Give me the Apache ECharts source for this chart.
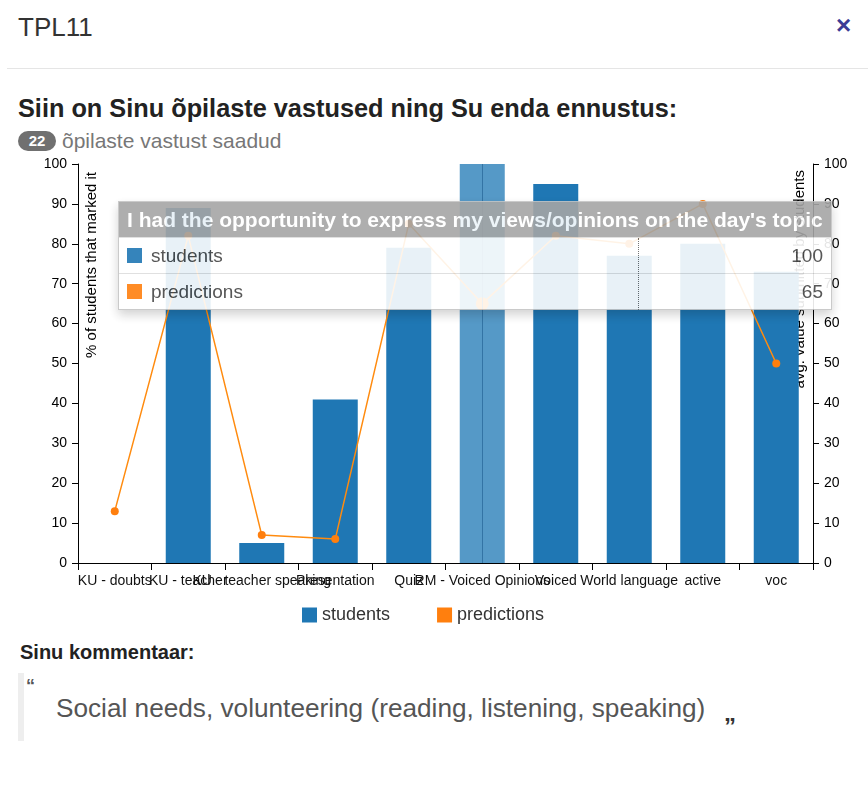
<!DOCTYPE html>
<html>
<head>
<meta charset="utf-8">
<title>TPL11</title>
<script src="https://cdn.jsdelivr.net/npm/echarts@6/dist/echarts.min.js"></script>
<style>
  html, body { margin: 0; padding: 0; background: #fff; }
  body { width: 868px; height: 787px; position: relative; overflow: hidden;
         font-family: "Liberation Sans", Arial, Helvetica, sans-serif; }
  .abs { position: absolute; white-space: nowrap; }
  #title { left: 18px; top: 12px; line-height: 30px; font-size: 26px; color: #333; }
  #close { left: 836px; top: 11px; line-height: 28px; font-size: 26px; font-weight: bold; color: #3c3c96; }
  #divider { left: 7px; right: 0; top: 68px; height: 1px; background: #e5e5e5; }
  #heading { left: 18px; top: 93px; line-height: 30px; font-size: 25.3px; font-weight: bold; color: #222; }
  #badge { left: 18px; top: 131px; width: 38px; height: 20px; border-radius: 10px; background: #707070;
           color: #fff; font-size: 15px; font-weight: bold; line-height: 20px; text-align: center; }
  #count { left: 62px; top: 128px; line-height: 26px; font-size: 21px; color: #777; }
  #chart { position: absolute; left: 0; top: 150px; width: 868px; height: 490px; }
  #commentLabel { left: 20px; top: 640px; line-height: 24px; font-size: 20px; font-weight: bold; color: #222; }
  #quoteBar { left: 18px; top: 673px; width: 6px; height: 68px; background: #eee; }
  #openQuote { left: 26px; top: 676px; line-height: 20px; font-size: 18px; font-weight: bold; color: #555; }
  #comment { left: 56px; top: 692px; line-height: 32px; font-size: 26.2px; color: #555; }
  #closeQuote { left: 724px; top: 697px; line-height: 32px; font-size: 24px; font-weight: bold; color: #333; }
</style>
</head>
<body>
<div id="title" class="abs">TPL11</div>
<div id="close" class="abs">×</div>
<div id="divider" class="abs"></div>
<div id="heading" class="abs">Siin on Sinu õpilaste vastused ning Su enda ennustus:</div>
<div id="badge" class="abs">22</div>
<div id="count" class="abs">õpilaste vastust saadud</div>
<div id="chart"></div>
<div id="commentLabel" class="abs">Sinu kommentaar:</div>
<div id="quoteBar" class="abs"></div>
<div id="openQuote" class="abs">“</div>
<div id="comment" class="abs">Social needs, volunteering (reading, listening, speaking)</div>
<div id="closeQuote" class="abs">„</div>

<script>
// Categories along the x axis
const categories = [
  'KU - doubts', 'KU - teacher', 'KU - teacher speaking', 'Presentation', 'Quiz',
  'RM - Voiced Opinions', 'Voiced', 'World language', 'active', 'voc'
];
// % of students that marked each item (left axis)
const studentValues = [0, 89, 5, 41, 79, 100, 95, 77, 80, 73];
// Average predicted value (right axis)
const predictionValues = [13, 82, 7, 6, 85, 65, 82, 80, 90, 50];
// Series names
const seriesNames = ['students', 'predictions'];
// Axis titles
const leftAxisName = '% of students that marked it';
const rightAxisName = 'avg. value submitted by students';
// Question shown in the hover card
const questionText = "I had the opportunity to express my views/opinions on the day's topic";
// Item that is currently hovered
const hoverIndex = 5;

const BLUE = '#1f77b4';
const ORANGE = '#ff7f0e';
const FONT = '"Liberation Sans", Arial, Helvetica, sans-serif';

const chart = echarts.init(document.getElementById('chart'), null, { renderer: 'canvas' });

function valueAxis(position) {
  return {
    type: 'value',
    position: position,
    min: 0,
    max: 100,
    interval: 10,
    axisLine: { show: true, lineStyle: { color: '#000', width: 1 } },
    axisTick: { show: true, length: 6, lineStyle: { color: '#000' } },
    axisLabel: { color: '#000', fontSize: 14, fontFamily: FONT, margin: 11 },
    splitLine: { show: false }
  };
}

function tooltipHtml(params) {
  const rows = params.map(function (p) {
    return '<div style="height:35px;border-top:1px solid #ddd;display:flex;align-items:center;">' +
      '<span style="display:inline-block;width:15px;height:15px;margin-left:8px;background:' + p.color + ';"></span>' +
      '<span style="margin-left:9px;font-size:19px;color:#444;">' + p.seriesName + '</span>' +
      '<span style="margin-left:auto;margin-right:8px;font-size:19px;color:#444;">' + p.value + '</span>' +
      '</div>';
  }).join('');
  return '<div style="position:relative;width:712px;border:1px solid #c4c4c4;background:#fff;opacity:0.9;' +
    'box-shadow:0 5px 10px rgba(0,0,0,0.2);font-family:' + FONT.replace(/"/g, "'") + ';">' +
    '<div style="height:35px;line-height:35px;background:#a5a5a5;color:#fff;font-weight:bold;font-size:21px;' +
    'padding-left:8px;white-space:nowrap;overflow:hidden;">' + questionText + '</div>' +
    rows +
    '<div style="position:absolute;left:519px;top:36px;height:72px;border-left:1px dotted #666;"></div>' +
    '</div>';
}

chart.setOption({
  animation: false,
  textStyle: { fontFamily: FONT },
  grid: { left: 78, right: 55, top: 14, bottom: 77, containLabel: false, outerBoundsMode: 'none' },
  legend: {
    data: seriesNames,
    left: 302,
    top: 456,
    padding: 0,
    icon: 'rect',
    itemWidth: 15,
    itemHeight: 15,
    itemGap: 47,
    textStyle: { fontSize: 18, color: '#333', fontFamily: FONT }
  },
  tooltip: {
    trigger: 'axis',
    triggerOn: 'none',
    alwaysShowContent: true,
    transitionDuration: 0,
    padding: 0,
    borderWidth: 0,
    backgroundColor: 'transparent',
    extraCssText: 'box-shadow:none;border-radius:0;',
    position: [118, 51],
    axisPointer: {
      type: 'line',
      lineStyle: { color: '#2a6a9c', width: 1, type: 'solid', opacity: 0.8 }
    },
    formatter: tooltipHtml
  },
  xAxis: {
    type: 'category',
    data: categories,
    boundaryGap: true,
    axisLine: { show: true, lineStyle: { color: '#000', width: 1 } },
    axisTick: { show: true, length: 7, alignWithLabel: false, lineStyle: { color: '#000' } },
    axisLabel: { interval: 0, color: '#111', fontSize: 14, fontFamily: FONT, margin: 11, hideOverlap: false }
  },
  yAxis: [valueAxis('left'), valueAxis('right')],
  graphic: [
    {
      type: 'text', x: 92, y: 22, rotation: Math.PI / 2, silent: true,
      style: { text: leftAxisName, fontSize: 15, fontFamily: FONT, fill: '#000', align: 'right', verticalAlign: 'middle' }
    },
    {
      type: 'text', x: 800, y: 20, rotation: Math.PI / 2, silent: true,
      style: { text: rightAxisName, fontSize: 15, fontFamily: FONT, fill: '#000', align: 'right', verticalAlign: 'middle' }
    }
  ],
  series: [
    {
      name: seriesNames[0],
      type: 'bar',
      yAxisIndex: 0,
      data: studentValues,
      barWidth: 45,
      itemStyle: { color: BLUE },
      emphasis: { itemStyle: { color: '#5599c7' } }
    },
    {
      name: seriesNames[1],
      type: 'line',
      yAxisIndex: 1,
      data: predictionValues,
      symbol: 'circle',
      symbolSize: 8,
      showSymbol: true,
      lineStyle: { color: ORANGE, width: 1.5 },
      itemStyle: { color: ORANGE, borderWidth: 0 },
      emphasis: { scale: 1.6 },
      z: 5
    }
  ]
});

function showHover() {
  chart.dispatchAction({ type: 'showTip', seriesIndex: 0, dataIndex: hoverIndex });
}
showHover();
setTimeout(showHover, 50);
</script>
</body>
</html>
